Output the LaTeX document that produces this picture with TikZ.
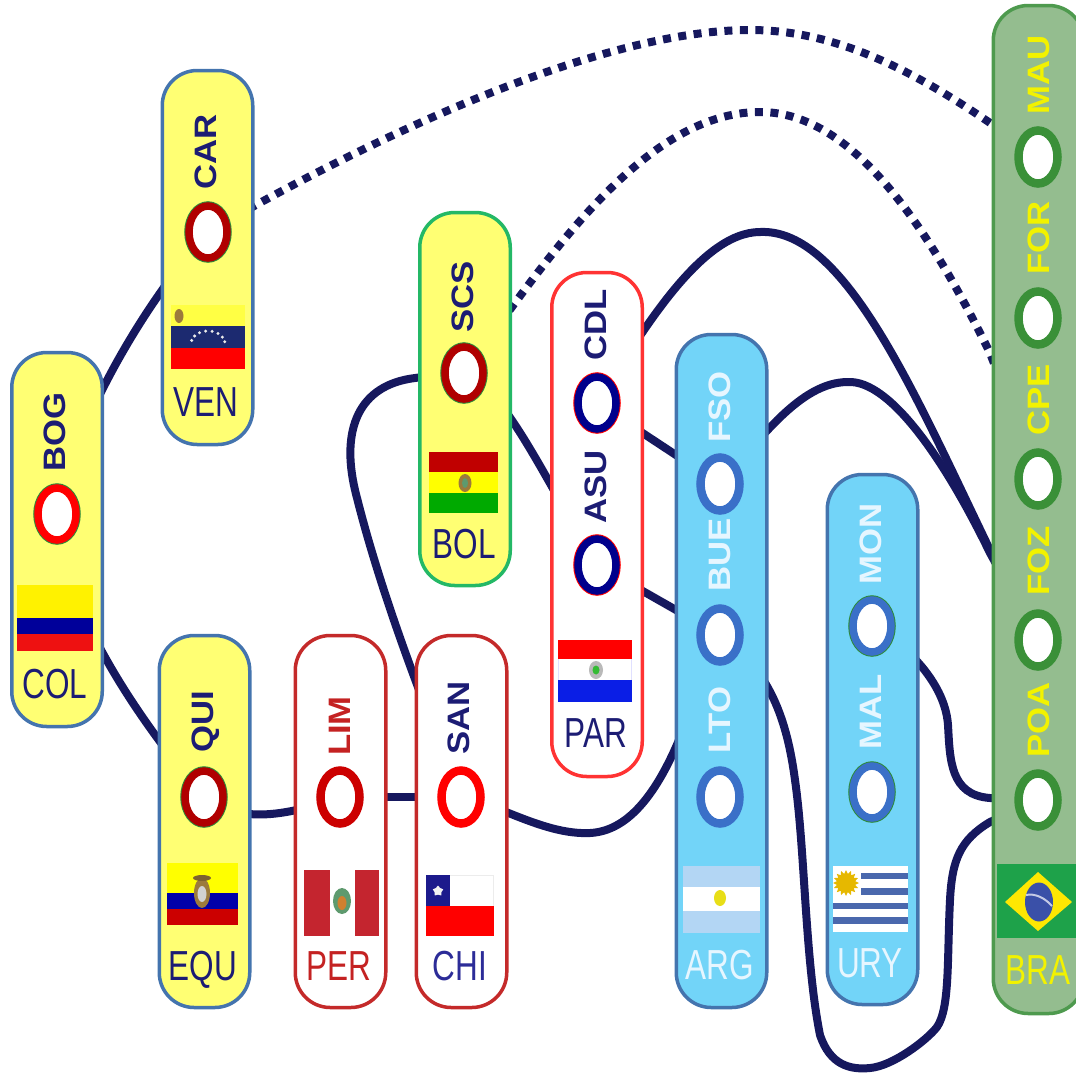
\documentclass[tikz,border=0pt]{standalone}
\usepackage{fontspec}
\setmainfont{Liberation Sans}
\usetikzlibrary{shapes.geometric,backgrounds}
\definecolor{navyl}{HTML}{16185E}
\definecolor{pnly}{HTML}{FFFF73}
\definecolor{pnlb}{HTML}{72D4F8}
\definecolor{pnlg}{HTML}{94BD8F}
\definecolor{edgeb}{HTML}{4474AE}
\definecolor{edgeg}{HTML}{24B866}
\definecolor{edger}{HTML}{C42A2A}
\definecolor{edgep}{HTML}{FF3333}
\definecolor{edgegg}{HTML}{4E9A4E}
\definecolor{txtn}{HTML}{1C1C74}
\definecolor{txtr}{HTML}{C42222}
\definecolor{txtc}{HTML}{2C2C98}
\definecolor{txtw}{HTML}{E6F6FF}
\definecolor{txty}{HTML}{F2F200}
\definecolor{ringb}{HTML}{3A70C8}
\definecolor{ringg}{HTML}{3A9038}
\definecolor{ringn}{HTML}{00008C}
\definecolor{ringd}{HTML}{B00000}
\definecolor{stemg}{HTML}{2E8B3A}
\definecolor{fy}{HTML}{FFF200}
\definecolor{fb}{HTML}{00009A}
\definecolor{fr}{HTML}{EE1111}
\definecolor{fvy}{HTML}{FFFF44}
\definecolor{fvb}{HTML}{1C2A70}
\definecolor{fey}{HTML}{FFFF00}
\definecolor{feb}{HTML}{0000AA}
\definecolor{fer}{HTML}{CC0000}
\definecolor{fpr}{HTML}{C4252F}
\definecolor{fcn}{HTML}{1C1A8C}
\definecolor{fbr}{HTML}{C00000}
\definecolor{fbg}{HTML}{00AA00}
\definecolor{fpb}{HTML}{0A1EE6}
\definecolor{fal}{HTML}{B3D6F4}
\definecolor{fus}{HTML}{4A68AD}
\definecolor{fsu}{HTML}{E6B800}
\definecolor{fbgr}{HTML}{1EA24A}
\definecolor{fbb}{HTML}{3A50A8}
\definecolor{femb}{HTML}{9C7A3C}
\definecolor{femg}{HTML}{5E9A6E}
\definecolor{femo}{HTML}{D08030}
\tikzset{
  pnl/.style 2 args={draw=#2,fill=#1,line width=3.5pt,rounded corners=35pt,minimum width=90.5pt,inner sep=0pt},
  stn/.style 2 args={ellipse,draw=#1,fill=white,line width=7.5pt,minimum width=38pt,minimum height=52pt,inner sep=0pt,
    preaction={draw=#2,line width=9.5pt}},
  cname/.style={inner sep=0pt,text height=22pt,text depth=0pt,rotate=90,font=\fontsize{31}{31}\selectfont\bfseries},
  ctry/.style={inner sep=0pt,text height=30pt,text depth=0pt,font=\fontsize{42}{42}\selectfont},
  route/.style={draw=navyl,line width=8pt,line cap=butt},
  dotroute/.style={draw=navyl,line width=8pt,dash pattern=on 8pt off 7.5pt},
}
\newcommand{\cityname}[1]{\scalebox{1.12}[1]{#1}}
\newcommand{\ctryname}[1]{\scalebox{0.75}[1]{#1}}
\begin{document}
\begin{tikzpicture}[x=1pt,y=-1pt]
\useasboundingbox (0,0) rectangle (1076,1072);
% panels
\node[pnl={pnly}{edgeb},minimum height=374pt] (col) at (57,539.5) {};
\node[pnl={pnly}{edgeb},minimum height=374pt] (ven) at (207.5,257.5) {};
\node[pnl={pnly}{edgeb},minimum height=372pt] (equ) at (204.5,821.5) {};
\node[pnl={white}{edger},minimum height=372pt] (per) at (340.5,821.5) {};
\node[pnl={white}{edger},minimum height=372pt] (chi) at (461.5,821.5) {};
\node[pnl={pnly}{edgeg},minimum height=373pt] (bol) at (465,399) {};
\node[pnl={white}{edgep},minimum height=504pt] (par) at (597,524.5) {};
\node[pnl={pnlb}{edgeb},minimum height=673pt] (arg) at (721.5,671) {};
\node[pnl={pnlb}{edgeb},minimum height=530pt] (ury) at (872.5,739.5) {};
\node[pnl={pnlg}{edgegg},minimum height=1008pt] (bra) at (1038.5,509.5) {};
% flags
\fill[fy] (17,585) rectangle (93,618);
\fill[fb] (17,618) rectangle (93,634);
\fill[fr] (17,634) rectangle (93,651);
\fill[fvy] (171,305) rectangle (245,326);
\fill[fvb] (171,326) rectangle (245,348);
\fill[red] (171,348) rectangle (245,369);
\fill[femb] (179,316) ellipse (4.5pt and 7pt);
\foreach \a in {10,32,...,170} \fill[white!85!gray] ({208+17*cos(\a)},{344-13*sin(\a)}) circle (1.7pt);
\fill[fey] (167,863) rectangle (238,893);
\fill[feb] (167,893) rectangle (238,909);
\fill[fer] (167,909) rectangle (238,925);
\fill[femb] (202,893) ellipse (8pt and 15pt);
\fill[gray!35!white] (202,894) ellipse (4.5pt and 8pt);
\fill[femb!80!black] (202,878) ellipse (9pt and 3pt);
\fill[fpr] (304,870) rectangle (330,936);
\fill[fpr] (355,870) rectangle (379,936);
\fill[femg] (342,901) ellipse (9pt and 13pt);
\fill[femo] (342,903) ellipse (4.5pt and 7pt);
\fill[gray!15] (426,875) rectangle (494,906);
\fill[white] (427,876) rectangle (493,906);
\fill[red] (426,906) rectangle (494,936);
\fill[fcn] (426,875) rectangle (450,906);
\node[star,star points=5,fill=white!90!gray,minimum size=11pt,inner sep=0pt] (chistar) at (438,891) {};
\fill[fbr] (429,452) rectangle (498,472);
\fill[fey] (429,472) rectangle (498,493);
\fill[fbg] (429,493) rectangle (498,513);
\fill[femb] (465,483) ellipse (6.5pt and 9pt);
\fill[femg] (465,483) ellipse (3pt and 5pt);
\fill[blue!12] (558,640) rectangle (632,702);
\fill[red] (558,640) rectangle (632,659);
\fill[white] (559,659) rectangle (631,680);
\fill[fpb] (558,680) rectangle (632,702);
\fill[gray!55] (596,670) ellipse (7pt and 9pt);
\fill[fbg!80!white] (596,670) ellipse (3.5pt and 4.5pt);
\fill[fal] (683,866) rectangle (760,933);
\fill[white] (683,887) rectangle (760,911);
\fill[yellow!90!black] (720,898) ellipse (6pt and 8pt);
\fill[white] (833,866) rectangle (908,932);
\foreach \y/\h in {873/6,888/7} \fill[fus] (861,\y) rectangle (908,\y+\h);
\foreach \y/\h in {903/6,917/7} \fill[fus] (833,\y) rectangle (908,\y+\h);
\node[star,star points=16,star point ratio=1.4,fill=fsu,minimum size=26pt,inner sep=0pt] (sun) at (846,883) {};
\fill[fbgr] (997,864) rectangle (1076,938);
\fill[yellow!95!red] (1005,902) -- (1038,872) -- (1072,902) -- (1038,931) -- cycle;
\fill[fbb] (1039,902) ellipse (14pt and 19.5pt);
\draw[white!70!fbb,line width=2pt] (1026,895) .. controls (1035,893) and (1045,898) .. (1052,906);
% stations
\node[stn={red}{stemg}] (bog) at (57,514) {};
\node[stn={ringd}{stemg}] (car) at (208,232) {};
\node[stn={ringd}{stemg}] (qui) at (204,797) {};
\node[stn={red!80!black}{red!80!black}] (lim) at (340,797) {};
\node[stn={red}{red}] (san) at (461,797) {};
\node[stn={ringd}{stemg}] (scs) at (464,373) {};
\node[stn={ringn}{red}] (cdl) at (597,403) {};
\node[stn={ringn}{red}] (asu) at (597,565) {};
\node[stn={ringb}{ringb}] (fso) at (720,484) {};
\node[stn={ringb}{ringb}] (bue) at (720,635) {};
\node[stn={ringb}{ringb}] (lto) at (720,797) {};
\node[stn={ringb}{stemg}] (mon) at (872,626) {};
\node[stn={ringb}{stemg}] (mal) at (872,792) {};
\node[stn={ringg}{ringg}] (mau) at (1038,157) {};
\node[stn={ringg}{ringg}] (for) at (1038,318) {};
\node[stn={ringg}{ringg}] (cpe) at (1038,479) {};
\node[stn={ringg}{ringg}] (foz) at (1038,640) {};
\node[stn={ringg}{ringg}] (poa) at (1038,800) {};
% station labels
\node[cname,text=txtn] (tbog) at (54,432) {\cityname{BOG}};
\node[cname,text=txtn] (tcar) at (205,152) {\cityname{CAR}};
\node[cname,text=txtn] (tqui) at (202,722) {\cityname{QUI}};
\node[cname,text=txtr] (tlim) at (339,726) {\cityname{LIM}};
\node[cname,text=txtn] (tsan) at (458,718) {\cityname{SAN}};
\node[cname,text=txtn] (tscs) at (462,297) {\cityname{SCS}};
\node[cname,text=txtn] (tcdl) at (595,325) {\cityname{CDL}};
\node[cname,text=txtn] (tasu) at (595,487) {\cityname{ASU}};
\node[cname,text=txtw] (tfso) at (719,407) {\cityname{FSO}};
\node[cname,text=txtw] (tbue) at (719,555) {\cityname{BUE}};
\node[cname,text=txtw] (tlto) at (719,720) {\cityname{LTO}};
\node[cname,text=txtw] (tmon) at (870,544) {\cityname{MON}};
\node[cname,text=txtw] (tmal) at (870,712) {\cityname{MAL}};
\node[cname,text=txty] (tmau) at (1038,75) {\cityname{MAU}};
\node[cname,text=txty] (tfor) at (1038,238) {\cityname{FOR}};
\node[cname,text=txty] (tcpe) at (1038,400) {\cityname{CPE}};
\node[cname,text=txty] (tfoz) at (1038,561) {\cityname{FOZ}};
\node[cname,text=txty] (tpoa) at (1038,720) {\cityname{POA}};
% country labels
\node[ctry,text=txtn] (lcol) at (55,683) {\ctryname{COL}};
\node[ctry,text=txtn] (lven) at (206,401) {\ctryname{VEN}};
\node[ctry,text=txtn] (lequ) at (203,965) {\ctryname{EQU}};
\node[ctry,text=txtr] (lper) at (339,965) {\ctryname{PER}};
\node[ctry,text=txtc] (lchi) at (460,965) {\ctryname{CHI}};
\node[ctry,text=txtn] (lbol) at (464,543) {\ctryname{BOL}};
\node[ctry,text=txtn] (lpar) at (596,732) {\ctryname{PAR}};
\node[ctry,text=txtw] (larg) at (720,964) {\ctryname{ARG}};
\node[ctry,text=txtw] (lury) at (870,962) {\ctryname{URY}};
\node[ctry,text=txty] (lbra) at (1038,969) {\ctryname{BRA}};
% connectors behind the panels
\begin{scope}[on background layer]
\draw[route] (bog.center) .. controls (70,440) and (130,320) .. (car.center);
\draw[route] (bog.center) .. controls (60,600) and (130,710) .. (qui.center);
\draw[route] (qui.center) .. controls (240,825) and (290,815) .. (lim.center);
\draw[route] (lim.center) -- (san.center);
\draw[route] (san.center) .. controls (500,805) and (545,835) .. (590,833)
  .. controls (630,831) and (660,790) .. (685,725) .. controls (700,690) and (710,660) .. (bue.center);
\draw[route] (bue.center) .. controls (770,670) and (787,720) .. (795,780)
  .. controls (805,850) and (805,960) .. (820,1035)
  .. controls (830,1065) and (850,1070) .. (870,1068)
  .. controls (893,1066) and (927,1040) .. (937,1027)
  .. controls (950,1008) and (947,960) .. (950,900)
  .. controls (952,860) and (960,840) .. (990,822) -- (poa.center);
\draw[route] (asu.center) -- (bue.center);
\draw[route] (scs.center) .. controls (505,390) and (540,470) .. (asu.center);
\draw[route] (san.center) .. controls (430,720) and (382,600) .. (355,490)
  .. controls (341,430) and (358,385) .. (415,378) .. controls (430,376) and (450,373) .. (scs.center);
\draw[route] (cdl.center) -- (fso.center);
\draw[route] (cdl.center) .. controls (640,335) and (700,232) .. (760,232)
  .. controls (845,228) and (915,395) .. (990,550) -- (foz.center);
\draw[route] (fso.center) .. controls (760,440) and (800,382) .. (848,382)
  .. controls (890,380) and (945,460) .. (990,553) -- (foz.center);
\draw[route] (mon.center) .. controls (900,640) and (945,680) .. (948,725)
  .. controls (950,760) and (950,795) .. (990,798) -- (poa.center);
\draw[dotroute] (car.center) .. controls (350,150) and (590,30) .. (750,30)
  .. controls (850,30) and (940,85) .. (mau.center);
\draw[dotroute] (scs.center) .. controls (540,270) and (640,112) .. (760,112)
  .. controls (850,112) and (925,220) .. (990,353) -- (cpe.center);
\end{scope}
\end{tikzpicture}
\end{document}
